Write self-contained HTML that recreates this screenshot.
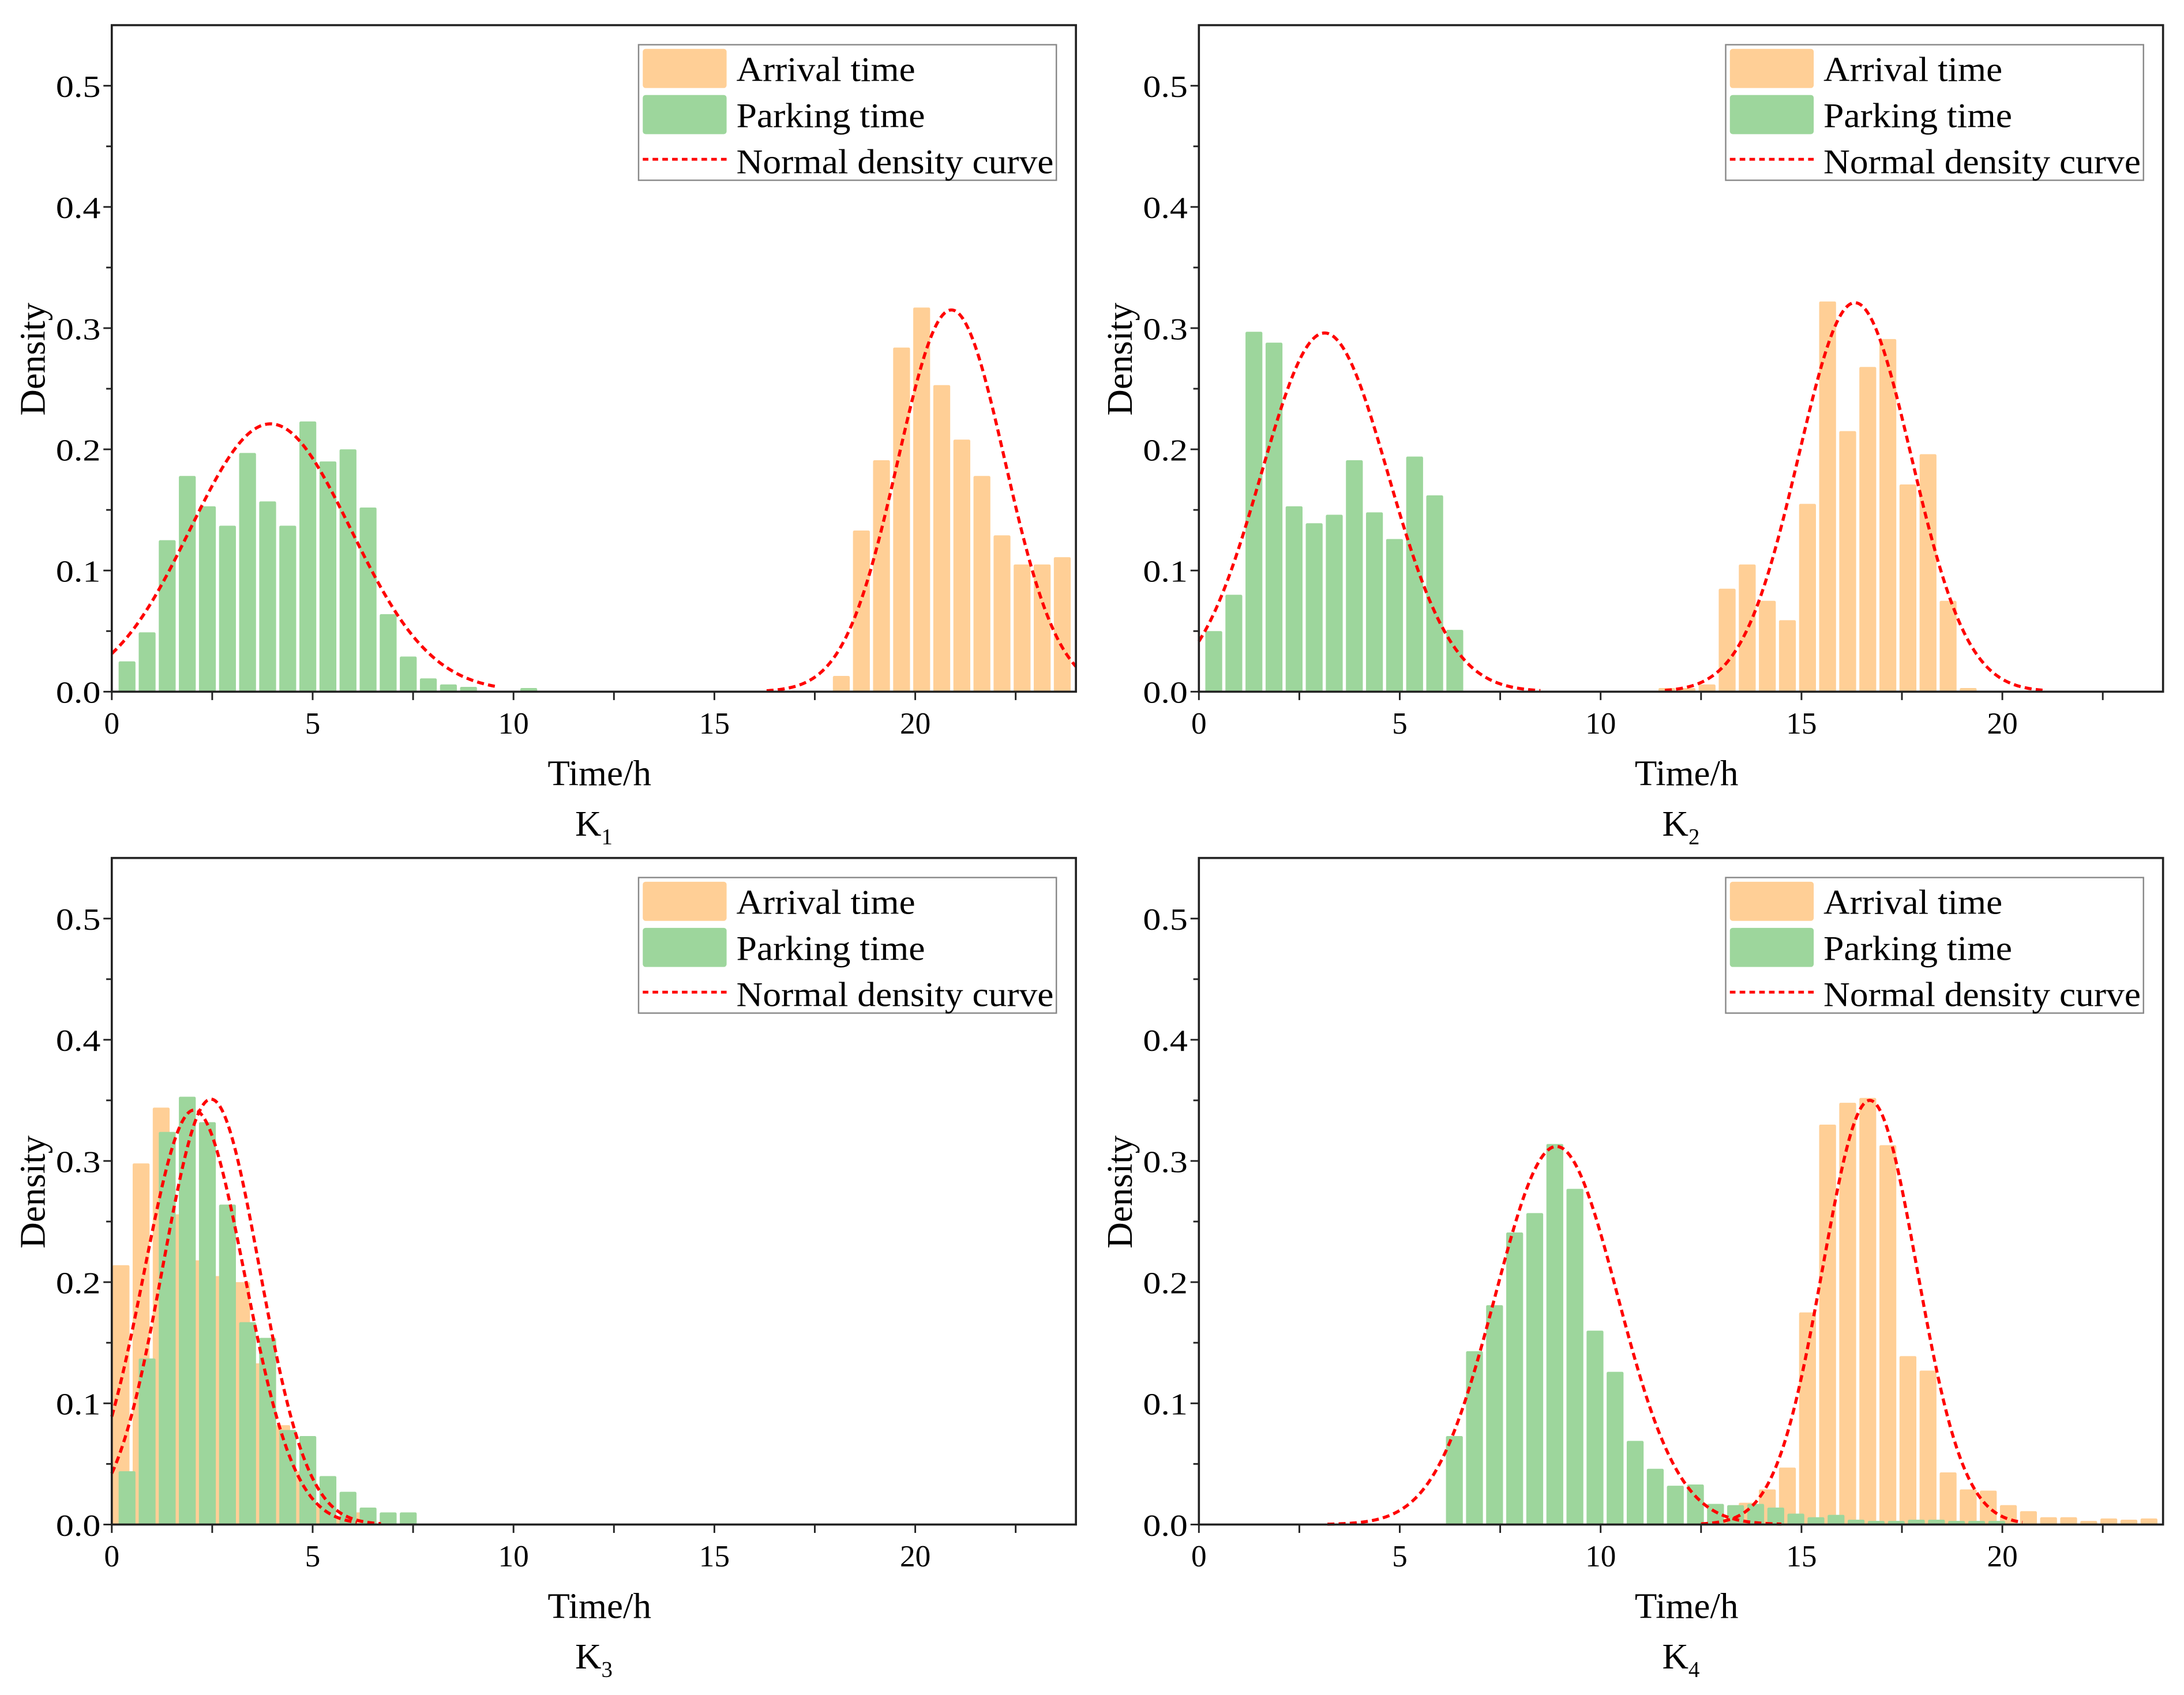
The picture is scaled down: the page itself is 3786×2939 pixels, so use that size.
<!DOCTYPE html>
<html><head><meta charset="utf-8"><style>
html,body{margin:0;padding:0;background:#fff;}
svg{display:block;}
text{font-family:"Liberation Serif","Times New Roman",serif;fill:#000;}
</style></head><body>
<svg id="fig" xmlns="http://www.w3.org/2000/svg" width="3786" height="2939" viewBox="0 0 1563 1213" preserveAspectRatio="none"></svg>
<script>
// ---- Panel K1 ----
const k1ArrivalStart = 17.95;
const k1Arrival = [0.013,0.133,0.191,0.284,0.317,0.253,0.208,0.178,0.129,0.105,0.105,0.111];
const k1ParkingStart = 0.17;
const k1Parking = [0.025,0.049,0.125,0.178,0.153,0.137,0.197,0.157,0.137,0.223,0.190,0.200,0.152,0.064,0.029,0.011,0.006,0.004,0,0,0.003];
const k1CurveMu = [3.95, 20.9];
const k1CurveSd = [2.0, 1.33];
const k1CurvePeak = [0.221, 0.315];
const k1CurveRange = [[0,9.6],[16.3,24]];
// ---- Panel K2 ----
const k2ArrivalStart = 11.44;
const k2Arrival = [0.003,0.003,0.006,0.085,0.105,0.075,0.059,0.155,0.322,0.215,0.268,0.291,0.171,0.196,0.075,0.003];
const k2ParkingStart = 0.16;
const k2Parking = [0.050,0.080,0.297,0.288,0.153,0.139,0.146,0.191,0.148,0.126,0.194,0.162,0.051];
const k2CurveMu = [3.13, 16.33];
const k2CurveSd = [1.58, 1.4];
const k2CurvePeak = [0.296, 0.321];
const k2CurveRange = [[0,8.5],[11.6,21.0]];
// ---- Panel K3 ----
const k3ArrivalStart = 0.02;
const k3Arrival = [0.214,0.298,0.344,0.256,0.218,0.205,0.200,0.133,0.082,0.044,0.015,0.006,0.010];
const k3ParkingStart = 0.17;
const k3Parking = [0.044,0.137,0.324,0.353,0.332,0.264,0.167,0.154,0.078,0.073,0.040,0.027,0.014,0.010,0.010];
const k3CurveMu = [2.05, 2.47];
const k3CurveSd = [1.25, 1.2];
const k3CurvePeak = [0.342, 0.351];
const k3CurveRange = [[0,6.1],[0,6.7]];
// ---- Panel K4 ----
const k4ArrivalStart = 12.94;
const k4Arrival = [0.005,0.018,0.029,0.047,0.175,0.330,0.348,0.352,0.313,0.139,0.127,0.043,0.029,0.028,0.016,0.011,0.006,0.006,0.003,0.005,0.004,0.005];
const k4ParkingStart = 6.15;
const k4Parking = [0.073,0.143,0.181,0.241,0.257,0.314,0.277,0.160,0.126,0.069,0.046,0.032,0.033,0.017,0.016,0.017,0.014,0.009,0.006,0.008,0.004,0.003,0.003,0.004,0.004,0.003,0.003,0.003];
const k4CurveMu = [8.9, 16.7];
const k4CurveSd = [1.52, 1.17];
const k4CurvePeak = [0.312, 0.35];
const k4CurveRange = [[3.2,14.5],[12.5,20.5]];
// axis ticks
const xTicks = [0,5,10,15,20];
const yTicks = [0.0,0.1,0.2,0.3,0.4,0.5];
const binWidth = 0.5;
const xMax = 24, yMax = 0.55;

const NS='http://www.w3.org/2000/svg';
const svg=document.getElementById('fig');
function mk(tag,attrs,parent){const e=document.createElementNS(NS,tag);for(const k in attrs)e.setAttribute(k,attrs[k]);(parent||svg).appendChild(e);return e;}

const panels=[
 {id:'k1',sub:'1',L:80,T:18,arrS:k1ArrivalStart,arr:k1Arrival,parS:k1ParkingStart,par:k1Parking,mu:k1CurveMu,sd:k1CurveSd,pk:k1CurvePeak,rg:k1CurveRange},
 {id:'k2',sub:'2',L:858,T:18,arrS:k2ArrivalStart,arr:k2Arrival,parS:k2ParkingStart,par:k2Parking,mu:k2CurveMu,sd:k2CurveSd,pk:k2CurvePeak,rg:k2CurveRange},
 {id:'k3',sub:'3',L:80,T:614,arrS:k3ArrivalStart,arr:k3Arrival,parS:k3ParkingStart,par:k3Parking,mu:k3CurveMu,sd:k3CurveSd,pk:k3CurvePeak,rg:k3CurveRange},
 {id:'k4',sub:'4',L:858,T:614,arrS:k4ArrivalStart,arr:k4Arrival,parS:k4ParkingStart,par:k4Parking,mu:k4CurveMu,sd:k4CurveSd,pk:k4CurvePeak,rg:k4CurveRange}
];
const W=690, H=477;
panels.forEach(p=>{
  const g=mk('g',{});
  
  
  const xs=v=>p.L+v/xMax*W;
  const ys=v=>p.T+H-v/yMax*H;
  function bars(start,vals,color,name){
    vals.forEach((v,i)=>{
      if(v<=0)return;
      const x0=start+i*binWidth;
      const r=mk('rect',{x:xs(x0),y:ys(v),width:xs(x0+binWidth*0.84)-xs(x0),height:ys(0)-ys(v),fill:color,rx:1},g);
      
      
    });
  }
  bars(p.arrS,p.arr,'#FFCF96','arrival');
  bars(p.parS,p.par,'#9DD69C','parking');
  p.mu.forEach((m,k)=>{
    const s=p.sd[k], pk=p.pk[k];let d='';
    const [a,b]=p.rg[k];
    for(let i=0;i<=200;i++){const x=a+(b-a)*i/200;const y=pk*Math.exp(-0.5*((x-m)/s)**2);d+=(i?'L':'M')+xs(x).toFixed(2)+','+ys(y).toFixed(2);}
    const c=mk('path',{d:d,fill:'none',stroke:'#FF0000','stroke-width':2.2,'stroke-dasharray':'5,3'},g);
    
    
  });
  // frame
  const f=mk('rect',{x:p.L,y:p.T,width:W,height:H,fill:'none',stroke:'#222','stroke-width':1.5},g);
  
  
  // x ticks
  for(let t=0;t<=22.5;t+=2.5){mk('line',{x1:xs(t),x2:xs(t),y1:ys(0),y2:ys(0)+6,stroke:'#222','stroke-width':1.2},g);}
  xTicks.forEach(t=>{const tx=mk('text',{x:xs(t),y:ys(0)+30,'text-anchor':'middle','font-size':22},g);tx.textContent=t;
    });
  for(let t=0;t<=0.5001;t+=0.05){mk('line',{x1:p.L,x2:p.L-(Math.round(t*100)%10===0?6:4),y1:ys(t),y2:ys(t),stroke:'#222','stroke-width':1.2},g);}
  yTicks.forEach(t=>{const tx=mk('text',{x:p.L-8,y:ys(t)+8,'text-anchor':'end','font-size':22,textLength:32,lengthAdjust:'spacingAndGlyphs'},g);tx.textContent=t.toFixed(1);
    });
  const yt=mk('text',{x:0,y:0,'text-anchor':'middle','font-size':26,transform:`translate(${p.L-48},${p.T+239}) rotate(-90)`},g);
  yt.textContent='Density';
  
  const xt=mk('text',{x:p.L+349,y:p.T+544,'text-anchor':'middle','font-size':26},g);
  xt.textContent='Time/h';
  
  const kt=mk('text',{x:p.L+345,y:p.T+580,'text-anchor':'middle','font-size':26},g);
  kt.innerHTML='K<tspan font-size="16" dy="6">'+p.sub+'</tspan>';
  
  // legend
  const lg=mk('g',{},g);
  
  mk('rect',{x:p.L+377,y:p.T+14,width:299,height:97,fill:'#fff',stroke:'#888','stroke-width':1},lg);
  mk('rect',{x:p.L+380,y:p.T+17,width:60,height:28,fill:'#FFCF96',rx:2},lg);
  mk('rect',{x:p.L+380,y:p.T+50,width:60,height:28,fill:'#9DD69C',rx:2},lg);
  mk('line',{x1:p.L+380,x2:p.L+440,y1:p.T+96,y2:p.T+96,stroke:'#FF0000','stroke-width':2,'stroke-dasharray':'4,3'},lg);
  [['Arrival time',40,128],['Parking time',73,135],['Normal density curve',106,227]].forEach(([s,dy,len])=>{
    const t=mk('text',{x:p.L+447,y:p.T+dy,'font-size':25,textLength:len,lengthAdjust:'spacingAndGlyphs'},lg);t.textContent=s;
    
  });
});
</script>
</body></html>
